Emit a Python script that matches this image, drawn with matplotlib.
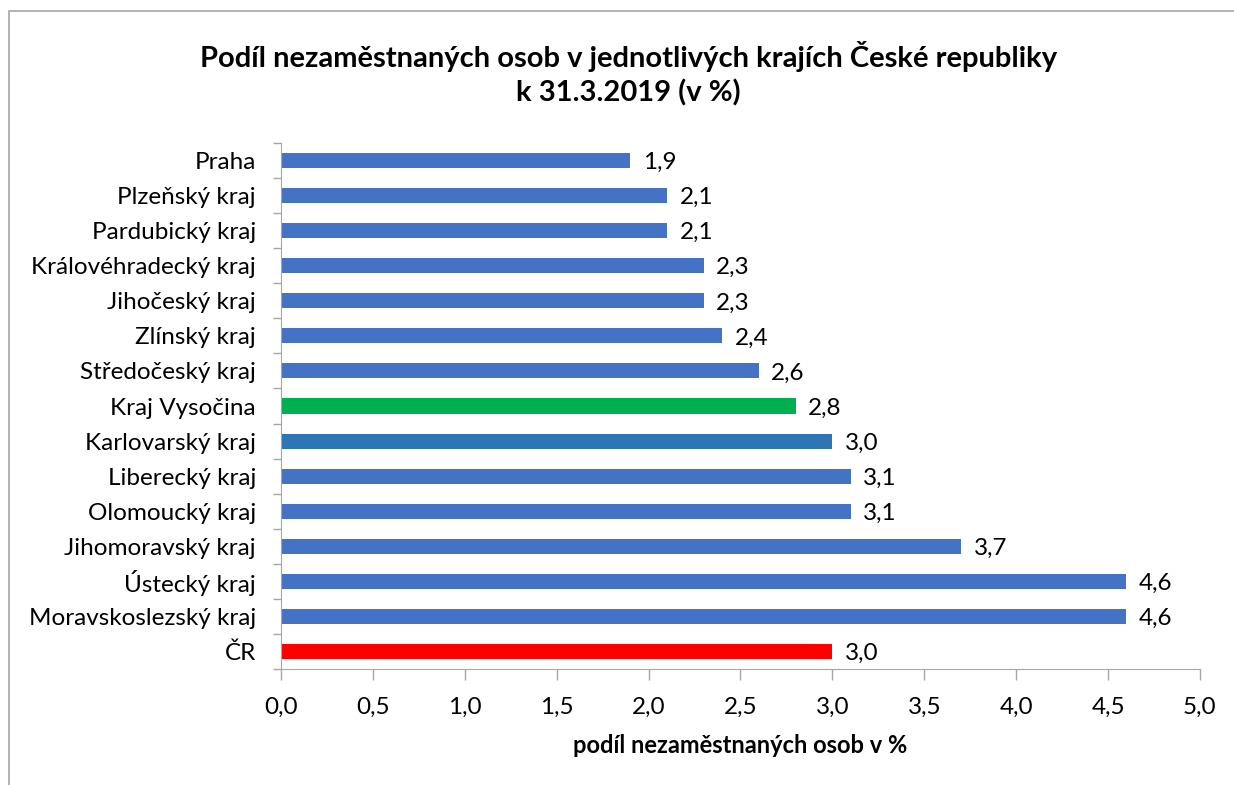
import matplotlib.pyplot as plt
from matplotlib.patches import Rectangle

plt.rcParams['font.family'] = ['Lato', 'DejaVu Sans']

regions = ['Praha', 'Plzeňský kraj', 'Pardubický kraj', 'Královéhradecký kraj',
           'Jihočeský kraj', 'Zlínský kraj', 'Středočeský kraj', 'Kraj Vysočina',
           'Karlovarský kraj', 'Liberecký kraj', 'Olomoucký kraj', 'Jihomoravský kraj',
           'Ústecký kraj', 'Moravskoslezský kraj', 'ČR']
shares = [1.9, 2.1, 2.1, 2.3, 2.3, 2.4, 2.6, 2.8, 3.0, 3.1, 3.1, 3.7, 4.6, 4.6, 3.0]
colors = ['#4472C4'] * 7 + ['#00B050', '#2E75B6'] + ['#4472C4'] * 5 + ['#FF0000']
xticks = [0, 0.5, 1, 1.5, 2, 2.5, 3, 3.5, 4, 4.5, 5]

fig = plt.figure(figsize=(12.34, 7.85), dpi=100)
ax = fig.add_axes([0.2277, 0.1478, 0.7447, 0.67])

y = list(range(len(regions)))
ax.barh(y, shares, height=0.43, color=colors)
ax.set_ylim(len(regions) - 0.5, -0.5)
ax.set_xlim(0, 5)

for yi, v in zip(y, shares):
    ax.annotate(f'{v:.1f}'.replace('.', ','), (v, yi), xytext=(9, -1.5),
                textcoords='offset points', va='center', ha='left', fontsize=17.5)

ax.set_yticks(y)
ax.set_yticklabels(regions, fontsize=17.5)
ax.set_yticks([i - 0.5 for i in range(len(regions) + 1)], minor=True)
ax.tick_params(axis='y', which='major', length=0, pad=18)
ax.tick_params(axis='y', which='minor', length=6, color='#A6A6A6', width=1)

ax.set_xticks(xticks)
ax.set_xticklabels([f'{t:.1f}'.replace('.', ',') for t in xticks], fontsize=17.5)
ax.tick_params(axis='x', length=8, color='#A6A6A6', width=1, pad=12)

for side in ['top', 'right']:
    ax.spines[side].set_visible(False)
for side in ['left', 'bottom']:
    ax.spines[side].set_color('#A6A6A6')

ax.set_xlabel('podíl nezaměstnaných osob v %', fontsize=17, fontweight='bold', labelpad=12)

fig.text(0.509, 0.906, 'Podíl nezaměstnaných osob v jednotlivých krajích České republiky\nk 31.3.2019 (v %)',
         ha='center', va='center', fontsize=21, fontweight='bold', linespacing=1.3)

fig.patches.append(Rectangle((9 / 1234, -0.01), 1.1, 1 - 11 / 785 + 0.01, transform=fig.transFigure,
                             fill=False, edgecolor='#A6A6A6', linewidth=1.2))

plt.savefig('out.png', dpi=100)
